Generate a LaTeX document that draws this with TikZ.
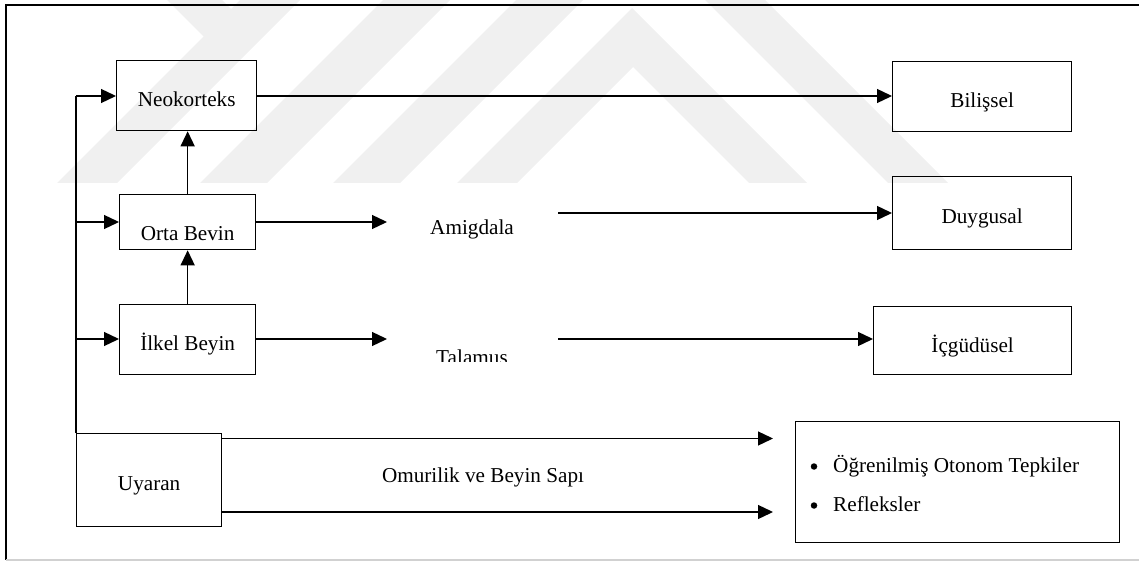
\documentclass[tikz,border=0pt]{standalone}
\usepackage{fontspec}
\setmainfont{Liberation Serif}
\usetikzlibrary{arrows.meta}
\begin{document}
\begin{tikzpicture}[x=1pt,y=-1pt,
  txt/.style={font=\fontsize{21.2}{25}\selectfont},
  box/.style={txt, draw, line width=1.3pt, inner sep=0pt, anchor=north west},
  lbl/.style={txt, inner sep=0pt, anchor=base},
  link/.style={line width=1.3pt},
  arr/.style={link, -{Triangle[length=15pt,width=14pt]}},
  dot/.style={circle, fill, inner sep=0pt, minimum size=6.5pt},
  wmark/.style={fill=black!6, draw=none}]
\useasboundingbox (0,0) rectangle (1139,561);

% faint background watermark bands
\begin{scope}
  \fill[wmark] (57,183) -- (117,183) -- (300,0) -- (240,0) -- cycle;
  \fill[wmark] (167,0) -- (222,0) -- (250,28) -- (222,56) -- (207,40) -- cycle;
  \fill[wmark] (200,183) -- (267,183) -- (450,0) -- (383,0) -- cycle;
  \fill[wmark] (333,183) -- (400,183) -- (583,0) -- (516,0) -- cycle;
  \fill[wmark] (457,183) -- (517,183) -- (633,67) -- (749,183) -- (807,183) -- (632,8) -- cycle;
  \fill[wmark] (705,0) -- (765,0) -- (948,183) -- (888,183) -- cycle;
\end{scope}

% outer frame
\draw[line width=1.6pt] (1139,5) -- (6,5) -- (6,560);
\draw[black!18, line width=1.5pt] (6,560) -- (1139,560);

% boxes
\node[box, minimum width=140pt, text height=46pt, text depth=24pt] (neo) at (116,60) {Neokorteks};
\node[box, minimum width=136pt, text height=46pt, text depth=9pt] (orta) at (119,194) {Orta Bevin};
\node[box, minimum width=136pt, text height=46pt, text depth=24pt] (ilkel) at (119,304) {İlkel Beyin};
\node[box, minimum width=179pt, text height=46pt, text depth=24pt] (bil) at (892,61) {Bilişsel};
\node[box, minimum width=179pt, text height=47pt, text depth=26pt] (duy) at (892,176) {Duygusal};
\node[box, minimum width=198pt, text height=46pt, text depth=22pt] (icg) at (873,306) {İçgüdüsel};
\node[box, minimum width=145pt, text height=57pt, text depth=36pt] (uy) at (76,433) {Uyaran};
\node[box, minimum width=324pt, minimum height=121pt] (res) at (795,421) {};

% free labels
\node[lbl] (amg) at (472,235) {Amigdala};
\begin{scope}
  \clip (400,330) rectangle (540,361.5);
  \node[lbl] (tal) at (472,364) {Talamus};
\end{scope}
\node[lbl] (oms) at (483,482) {Omurilik ve Beyin Sapı};
\node[dot] (b1) at (814,466.5) {};
\node[dot] (b2) at (814,505.5) {};
\node[lbl, anchor=base west] (it1) at (833,472.7) {Öğrenilmiş Otonom Tepkiler};
\node[lbl, anchor=base west] (it2) at (833,511.7) {Refleksler};

% spine from the stimulus up to the brain levels
\coordinate (jn) at (76,96);
\coordinate (jo) at (76,222);
\coordinate (ji) at (76,339);
\draw[link] (uy.north west) -- (jn);
\draw[arr] (jn) -- (jn -| neo.west);
\draw[arr] (jo) -- (jo -| orta.west);
\draw[arr] (ji) -- (ji -| ilkel.west);

% upward links between levels
\draw[arr] (orta.north) -- (orta.north |- neo.south);
\draw[arr] (ilkel.north) -- (ilkel.north |- orta.south);

% outputs
\draw[arr] (jn -| neo.east) -- (jn -| bil.west);
\coordinate (am1) at (387,222);
\coordinate (am2) at (558,213);
\draw[arr] (jo -| orta.east) -- (am1);
\draw[arr] (am2) -- (am2 -| duy.west);
\coordinate (ta1) at (387,339);
\coordinate (ta2) at (558,339);
\draw[arr] (ji -| ilkel.east) -- (ta1);
\draw[arr] (ta2) -- (ta2 -| icg.west);
\coordinate (u1) at (773,438.5);
\coordinate (u2) at (773,512);
\draw[arr] (u1 -| uy.east) -- (u1);
\draw[arr] (u2 -| uy.east) -- (u2);
\end{tikzpicture}
\end{document}
